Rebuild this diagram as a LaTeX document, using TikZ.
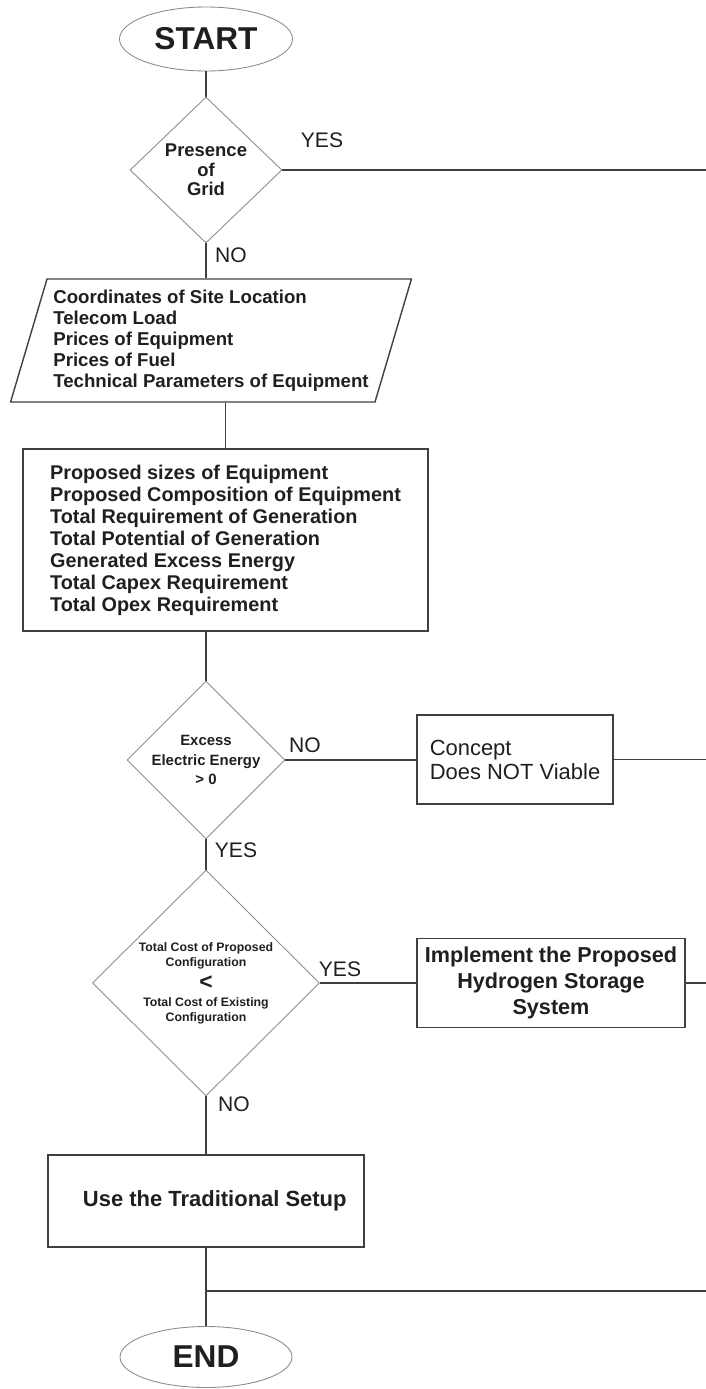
\documentclass[tikz,border=0pt]{standalone}
\usepackage{fontspec}
\setmainfont{Liberation Sans}
\usetikzlibrary{shapes.geometric}
\colorlet{mygray}{black!45}
\colorlet{mydark}{black!75}
\colorlet{mytext}{black!88}
\newcommand{\setfs}[2]{\fontsize{#1}{#2}\selectfont}

\begin{document}
\begin{tikzpicture}[x=0.02cm,y=-0.02cm]
\useasboundingbox (0,0) rectangle (706,1389);
\tikzset{TermStyle/.style ={shape=ellipse, draw=mygray, line width=0.5pt, text=mytext, inner sep=0, font=\bfseries\setfs{18}{20}}}
\tikzset{DecisionStyle/.style ={shape=diamond, draw=mygray, line width=0.5pt, text=mytext, inner sep=0, align=center}}
\tikzset{BoxStyle/.style ={shape=rectangle, draw=mydark, line width=0.8pt, text=mytext, inner sep=0}}
\tikzset{DataStyle/.style ={shape=trapezium, trapezium left angle=71, trapezium right angle=109, trapezium stretches=true, draw=mydark, line width=0.8pt, text=mytext, inner sep=0}}
\tikzset{LabelStyle/.style ={text=mytext, inner sep=0, font=\setfs{12}{14}}}
\tikzset{LineStyle/.style ={-, draw=mydark, line width=0.8pt}}
% terminals and decisions
\node[TermStyle, minimum width=3.46cm, minimum height=1.28cm] (start) at (206,39) {START};
\node[DecisionStyle, minimum width=3.04cm, minimum height=2.92cm, font=\bfseries\setfs{10.5}{11}] (grid) at (206,170) {Presence\\of\\Grid};
\node[DecisionStyle, minimum width=3.04cm, minimum height=2.96cm, font=\bfseries\setfs{8.5}{11}] (excess) at (206,760) {Excess\\Electric Energy\\> 0};
\node[DecisionStyle, minimum width=4.54cm, minimum height=4.52cm, font=\bfseries\setfs{7}{8.5}] (cost) at (206,983) {Total Cost of Proposed\\Configuration\\[3pt]{\setfs{13}{13}<}\\[1pt]Total Cost of Existing\\Configuration};
\node[TermStyle, minimum width=3.44cm, minimum height=1.22cm] (stop) at (206,1357) {END};
% input and process boxes
\node[DataStyle, minimum width=8.04cm, minimum height=2.46cm, align=left, font=\bfseries\setfs{10.6}{12}] (inputs) at (211,340.5) {Coordinates of Site Location\\Telecom Load\\Prices of Equipment\\Prices of Fuel\\Technical Parameters of Equipment};
\node[BoxStyle, minimum width=8.10cm, minimum height=3.64cm, align=left, font=\bfseries\setfs{11.3}{12.5}] (params) at (225.5,540) {Proposed sizes of Equipment\\Proposed Composition of Equipment\\Total Requirement of Generation\\Total Potential of Generation\\Generated Excess Energy\\Total Capex Requirement\\Total Opex Requirement};
\node[BoxStyle, minimum width=3.92cm, minimum height=1.78cm, align=left, font=\setfs{12.5}{13.7}] (notviable) at (515,759.5) {Concept\\Does NOT Viable};
\node[BoxStyle, minimum width=5.36cm, minimum height=1.78cm, align=center, font=\bfseries\setfs{12.3}{15}] (implement) at (551,983) {Implement the Proposed\\Hydrogen Storage\\System};
\node[BoxStyle, minimum width=6.32cm, minimum height=1.84cm, font=\bfseries\setfs{12.5}{14}] (trad) at (206,1201) {\hspace*{10pt}Use the Traditional Setup};
% branch labels
\node[LabelStyle] (yes1) at (322,140) {YES};
\node[LabelStyle] (no1) at (231,255) {NO};
\node[LabelStyle] (no2) at (305,745) {NO};
\node[LabelStyle] (yes2) at (236,850) {YES};
\node[LabelStyle] (yes3) at (340,969) {YES};
\node[LabelStyle] (no3) at (234,1104) {NO};
\coordinate (edge) at (706,0);
\coordinate (join) at (206,1291);
% connectors
\draw[LineStyle] (start) -- (grid);
\draw[LineStyle] (grid.south) -- (grid.south |- inputs.north);
\draw[LineStyle] (inputs.south -| params.north) -- (params.north);
\draw[LineStyle] (params.south -| excess.north) -- (excess.north);
\draw[LineStyle] (excess) -- (cost);
\draw[LineStyle] (cost) -- (trad);
\draw[LineStyle] (trad) -- (stop);
\draw[LineStyle] (grid.east) -- (grid.east -| edge);
\draw[LineStyle] (excess.east) -- (excess.east -| notviable.west);
\draw[LineStyle] (notviable.east) -- (notviable.east -| edge);
\draw[LineStyle] (cost.east) -- (cost.east -| implement.west);
\draw[LineStyle] (implement.east) -- (implement.east -| edge);
\draw[LineStyle] (join) -- (join -| edge);
\end{tikzpicture}
\end{document}
